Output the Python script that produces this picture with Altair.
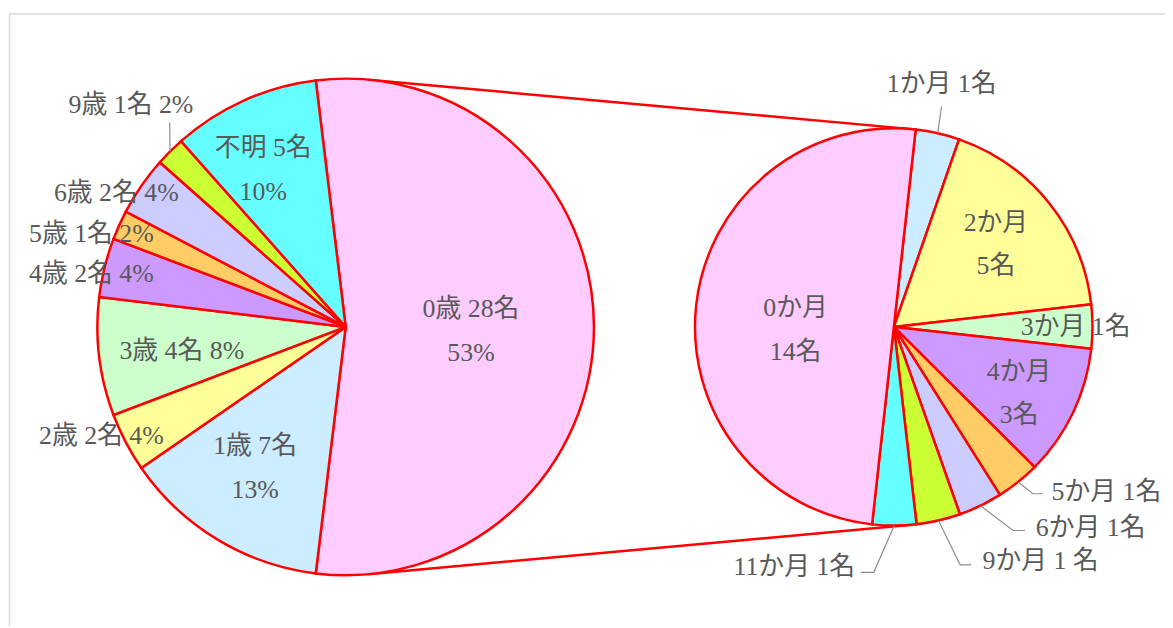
import math
import altair as alt
import pandas as pd

# ---------------- data ----------------
age_cats = ["0歳", "1歳", "2歳", "3歳", "4歳", "5歳", "6歳", "9歳", "不明"]
age_counts = [28, 7, 2, 4, 2, 1, 2, 1, 5]
age_pcts = [53, 13, 4, 8, 4, 2, 4, 2, 10]
age_labels = ["0歳 28名\n53%", "1歳 7名\n13%", "2歳 2名 4%", "3歳 4名 8%", "4歳 2名 4%",
              "5歳 1名 2%", "6歳 2名 4%", "9歳 1名 2%", "不明 5名\n10%"]

month_cats = ["1か月", "2か月", "3か月", "4か月", "5か月", "6か月", "9か月", "11か月", "0か月"]
month_counts = [1, 5, 1, 3, 1, 1, 1, 1, 14]
month_labels = ["1か月 1名", "2か月\n5名", "3か月 1名", "4か月\n3名", "5か月 1名",
                "6か月 1名", "9か月 1 名", "11か月 1名", "0か月\n14名"]

# ---------------- styles / layout ----------------
age_colors = ["#FFCCFF", "#CCECFF", "#FFFF99", "#CCFFCC", "#CC99FF",
              "#FFCC66", "#CCCCFF", "#CCFF33", "#66FFFF"]
month_colors = ["#CCECFF", "#FFFF99", "#CCFFCC", "#CC99FF", "#FFCC66",
                "#CCCCFF", "#CCFF33", "#66FFFF", "#FFCCFF"]

W, H = 1165, 620
FONT = "Liberation Serif, Noto Sans CJK JP"
FONT_SIZE = 26
LINE_H = 44
TEXT_COLOR = "#595959"
EDGE = "#FF0000"

L_C, L_R = (340.0, 319.0), 250.0
R_C, R_R = (892.0, 319.0), 200.0
L_START = 90 - 180 * age_counts[0] / sum(age_counts)   # 0歳 slice centred on the right
R_START = 6.3

# label placement in polar terms (angle deg clockwise from top, radius factor)
age_lab_pos = [(92, 0.505), (212.7, 0.675), (245.9, 1.078), (261.7, 0.667), (281.7, 1.046),
               (290.0, 1.09), (300.3, 1.07), (316.0, 1.245), (332.3, 0.714)]
month_lab_pos = [(11.1, 1.248), (51.1, 0.66), (90, 0.915), (118.0, 0.714), (127.8, 1.354),
                 (135.7, 1.418), (147.9, 1.39), (202.5, 1.31), (268, 0.495)]
# leader lines: (pie, slice index, end dx, end dy from label, elbow dx)
leaders = [("L", 7, 39, 18, 0), ("R", 0, 0, 23, 0), ("R", 4, -64, 2, -10),
           ("R", 5, -66, 2, -12), ("R", 6, -70, 4, -11), ("R", 7, 67, 5, 13)]


def polar(c, r, ang):
    a = math.radians(ang)
    return c[0] + r * math.sin(a), c[1] - r * math.cos(a)


def mid_angles(counts, start):
    tot = sum(counts)
    out, acc = [], 0
    for n in counts:
        out.append(start + 360 * (acc + n / 2) / tot)
        acc += n
    return out


def pie(cats, counts, colors, c, R, start_deg):
    df = pd.DataFrame({"cat": cats, "n": counts, "col": colors, "i": list(range(len(cats)))})
    s = math.radians(start_deg) + 2 * math.pi
    return alt.Chart(df).mark_arc(outerRadius=R, stroke=EDGE, strokeWidth=2.5).encode(
        x=alt.value(c[0]), y=alt.value(c[1]),
        theta=alt.Theta("n:Q", stack=True, scale=alt.Scale(range=[s, s + 2 * math.pi])),
        fill=alt.Fill("col:N", scale=None),
        order=alt.Order("i:Q"),
    )


# label table (anchor = centre of the text block)
rows = []
for labs, pos, c, R in [(age_labels, age_lab_pos, L_C, L_R), (month_labels, month_lab_pos, R_C, R_R)]:
    for t, (a, f) in zip(labs, pos):
        x, y = polar(c, R * f, a)
        nlines = t.count("\n") + 1
        rows.append({"t": t, "x": x, "y": y - (nlines - 1) * LINE_H / 2})
lab_df = pd.DataFrame(rows)

# leader lines
mids = {"L": mid_angles(age_counts, L_START), "R": mid_angles(month_counts, R_START)}
pos_map = {"L": age_lab_pos, "R": month_lab_pos}
geo = {"L": (L_C, L_R), "R": (R_C, R_R)}
lead_rows = []
for k, (side, idx, dx, dy, ex) in enumerate(leaders):
    c, R = geo[side]
    p0 = polar(c, R, mids[side][idx])
    a, f = pos_map[side][idx]
    lx, ly = polar(c, R * f, a)
    p2 = (lx + dx, ly + dy)
    p1 = (p2[0] + ex, p2[1]) if ex else p0
    for j, p in enumerate([p0, p1, p2]):
        lead_rows.append({"id": k, "j": j, "x": p[0], "y": p[1]})
lead_df = pd.DataFrame(lead_rows)

# connector lines (outer tangents of the two circles)
d = R_C[0] - L_C[0]
sa = (L_R - R_R) / d
ca = math.sqrt(1 - sa * sa)
con_rows = []
for sgn in (-1, 1):
    con_rows.append({"x": L_C[0] + L_R * sa, "y": L_C[1] + sgn * L_R * ca,
                     "x2": R_C[0] + R_R * sa, "y2": R_C[1] + sgn * R_R * ca})
con_df = pd.DataFrame(con_rows)

border = alt.layer(
    alt.Chart().mark_rule(color="#D9D9D9", strokeWidth=1.5).encode(
        x=alt.value(1.5), y=alt.value(4), y2=alt.value(H)),
    alt.Chart().mark_rule(color="#D9D9D9", strokeWidth=1.5).encode(
        x=alt.value(1.5), x2=alt.value(W), y=alt.value(4)),
)

connectors = alt.Chart(con_df).mark_rule(color=EDGE, strokeWidth=2.5).encode(
    x=alt.X("x:Q", scale=None, axis=None), y=alt.Y("y:Q", scale=None, axis=None),
    x2="x2:Q", y2="y2:Q")

left_pie = pie(age_cats, age_counts, age_colors, L_C, L_R, L_START)
right_pie = pie(month_cats, month_counts, month_colors, R_C, R_R, R_START)

leader_lines = alt.Chart(lead_df).mark_line(color="#8C8C8C", strokeWidth=1.2).encode(
    x=alt.X("x:Q", scale=None, axis=None), y=alt.Y("y:Q", scale=None, axis=None),
    detail="id:N", order="j:Q")

labels = alt.Chart(lab_df).mark_text(
    font=FONT, fontSize=FONT_SIZE, color=TEXT_COLOR, lineBreak="\n", lineHeight=LINE_H,
    align="center", baseline="middle").encode(
    x=alt.X("x:Q", scale=None, axis=None), y=alt.Y("y:Q", scale=None, axis=None), text="t:N")

chart = alt.layer(border, connectors, left_pie, right_pie, leader_lines, labels).resolve_scale(
    theta="independent").properties(
    width=W, height=H, padding=0, autosize=alt.AutoSizeParams(type="none"),
    background="white").configure_view(stroke=None)

chart.save("out.html", embed_options={"renderer": "svg", "actions": False})
